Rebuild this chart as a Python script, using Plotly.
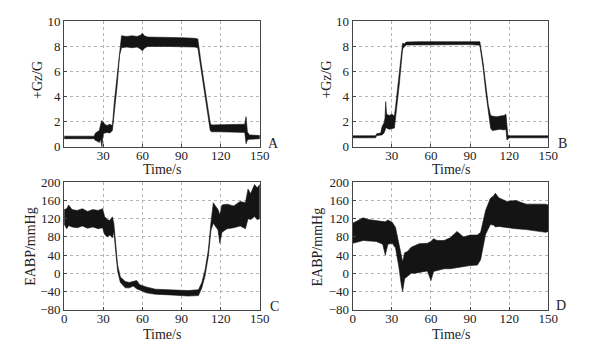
import plotly.graph_objects as go

# ---------------- data (envelopes) ----------------
# Panel A: +Gz/G vs time
tA = [0, 23, 24, 25.5, 27, 28, 29, 29.5, 30, 31, 33, 35, 37, 38.5, 40.75, 42.5, 44,
      48, 52, 56, 58.5, 60, 61.5, 64, 70, 80, 90, 100, 102.5, 105, 107, 110, 112,
      113, 120, 130, 138.5, 139.5, 140.5, 142, 146, 150]
upA = [0.85, 0.85, 1.1, 1.2, 1.3, 1.8, 2.1, 1.9, 2.0, 1.8, 1.7, 1.8, 1.7, 3.6, 5.8, 7.9, 8.85,
       8.8, 8.85, 8.8, 8.9, 9.05, 8.85, 8.75, 8.75, 8.72, 8.7, 8.65, 8.6, 6.7, 5.4, 3.3, 1.9,
       1.75, 1.75, 1.75, 1.8, 2.4, 1.2, 0.95, 0.9, 0.9]
loA = [0.65, 0.65, 0.5, 0.45, 0.35, 0.6, 0.0, 0.6, 1.0, 1.1, 1.15, 1.1, 1.3, 2.8, 5.0, 7.3, 7.9,
       7.95, 7.9, 7.95, 7.8, 7.65, 7.85, 8.0, 8.0, 8.0, 8.0, 7.95, 7.9, 6.0, 4.9, 2.7, 1.3,
       1.2, 1.2, 1.2, 1.15, 0.25, 0.55, 0.6, 0.65, 0.65]

# Panel B: +Gz/G vs time
tB = [0, 17.5, 18.5, 21.5, 22.5, 24, 24.8, 25.3, 26, 28, 30, 32, 33, 35.75, 38.25, 39.5,
      41, 50, 60, 70, 80, 90, 97.5, 100, 102, 104, 105.75, 107, 110, 113, 116, 117.5,
      118.3, 119, 120, 130, 140, 150]
upB = [0.88, 0.88, 1.05, 1.1, 1.6, 1.9, 2.3, 3.6, 2.6, 2.5, 2.6, 2.45, 3.3, 5.7, 8.25, 8.2,
       8.35, 8.38, 8.38, 8.38, 8.38, 8.38, 8.38, 6.7, 4.8, 3.3, 2.5, 2.45, 2.4, 2.45, 2.5, 2.6,
       1.7, 0.9, 0.88, 0.88, 0.88, 0.88]
loB = [0.72, 0.72, 0.9, 0.95, 0.95, 1.1, 1.3, 1.5, 1.5, 1.4, 1.45, 1.5, 2.2, 5.0, 7.8, 7.95,
       8.12, 8.15, 8.15, 8.15, 8.15, 8.15, 8.1, 6.3, 4.4, 2.7, 1.5, 1.3, 1.35, 1.4, 1.35, 1.4,
       0.55, 0.6, 0.72, 0.72, 0.72, 0.72]

# Panel C: EABP/mmHg vs time
tC = [0, 2, 3.5, 6, 10, 14, 18, 22, 26, 29.5, 31, 33, 35, 37, 38.1, 39.4, 41, 43.1,
      46.9, 50, 53, 55.6, 58, 63, 70, 77, 85, 95, 103, 105.6, 108.1, 110.6, 112.6,
      114.4, 116, 118, 119.4, 121, 125, 130, 135, 139, 141, 143, 146, 148, 150]
upC = [140, 142, 150, 140, 138, 142, 136, 140, 138, 142, 125, 118, 116, 124, 110, 60, 18, -8,
       -18, -20, -18, -16, -25, -30, -35, -36, -37, -38, -36, -20, 8, 52, 112,
       155, 148, 140, 128, 150, 152, 148, 158, 155, 185, 175, 195, 188, 195]
loC = [108, 98, 105, 102, 100, 104, 99, 102, 98, 100, 86, 80, 84, 78, 92, 45, 5, -20,
       -32, -32, -28, -34, -38, -43, -46, -47, -48, -50, -49, -32, -5, 38, 95,
       110, 102, 95, 66, 90, 98, 100, 104, 98, 120, 118, 125, 118, 120]

# Panel D: EABP/mmHg vs time
tD = [0, 3, 8, 12, 18, 23, 25, 27, 30.3, 32.8, 35.3, 37.3, 38.3, 39.8, 42, 44.8, 48, 51,
      57.3, 60, 62, 64.8, 70, 74.8, 80, 85, 90, 95.6, 98.1, 101.9, 105.6, 108, 109.4,
      112, 118.1, 125, 133.1, 140, 148, 150]
upD = [110, 115, 122, 118, 116, 114, 113, 117, 112, 101, 66, 31, 25, 45, 48, 57, 62, 65,
       66, 70, 76, 72, 72, 78, 92, 80, 84, 84, 90, 138, 165, 170, 176,
       166, 158, 160, 152, 152, 152, 150]
loD = [66, 68, 72, 72, 70, 64, 40, 64, 66, 56, 16, -26, -40, -12, -6, 0, 0, 2,
       5, -16, 4, 6, 10, 10, 12, 15, 17, 18, 30, 86, 107, 106, 102,
       103, 100, 98, 96, 94, 90, 92]

xticks_top = [30, 60, 90, 120, 150]
xticks_bot = [0, 30, 60, 90, 120, 150]
yticks_g = [0, 2, 4, 6, 8, 10]
yticks_p = [-80, -40, 0, 40, 80, 120, 160, 200]
yticks_p_text = ["\u221280", "\u221240", "0", "40", "80", "120", "160", "200"]
panel_letters = ["A", "B", "C", "D"]

# ---------------- figure ----------------
W, H = 595, 356
FONT = "Liberation Serif, Times New Roman, serif"


def px_x(a, b):
    return [a / W, b / W]


def px_y(top, bottom):
    return [1 - bottom / H, 1 - top / H]


fig = go.Figure()

panels = [
    (tA, upA, loA, "x", "y"),
    (tB, upB, loB, "x2", "y2"),
    (tC, upC, loC, "x3", "y3"),
    (tD, upD, loD, "x4", "y4"),
]
for t, up, lo, xa, ya in panels:
    fig.add_trace(go.Scatter(
        x=list(t) + list(t)[::-1],
        y=list(up) + list(lo)[::-1],
        fill="toself", fillcolor="#141414",
        line=dict(color="#141414", width=0.6),
        mode="lines", hoverinfo="skip", showlegend=False,
        xaxis=xa, yaxis=ya,
    ))

common_axis = dict(
    showline=True, mirror=True, linecolor="#444444", linewidth=1,
    ticks="inside", ticklen=3, tickcolor="#444444",
    showgrid=True, gridcolor="#b5b5b5", griddash="dot", gridwidth=1,
    zeroline=False, tickfont=dict(family=FONT, size=13, color="#222222"),
)
x_axis_extra = dict(ticklabelstandoff=-3)

xA = px_x(62.5, 262.5)
xB = px_x(357.5, 557.5)
yTop = px_y(15, 146)
yBot = px_y(183, 316)

fig.update_layout(
    width=W, height=H,
    margin=dict(l=0, r=0, t=0, b=0),
    paper_bgcolor="white", plot_bgcolor="white",
    font=dict(family=FONT, size=13, color="#222222"),
    xaxis=dict(domain=xA, range=[0, 150], tickvals=xticks_top, anchor="y",
               **x_axis_extra, **common_axis),
    yaxis=dict(domain=yTop, range=[0, 10], tickvals=yticks_g, anchor="x", **common_axis),
    xaxis2=dict(domain=xB, range=[0, 150], tickvals=xticks_top, anchor="y2",
                **x_axis_extra, **common_axis),
    yaxis2=dict(domain=yTop, range=[0, 10], tickvals=yticks_g, anchor="x2", **common_axis),
    xaxis3=dict(domain=xA, range=[0, 150], tickvals=xticks_bot, anchor="y3",
                **x_axis_extra, **common_axis),
    yaxis3=dict(domain=yBot, range=[-80, 200], tickvals=yticks_p, ticktext=yticks_p_text,
                anchor="x3", **common_axis),
    xaxis4=dict(domain=xB, range=[0, 150], tickvals=xticks_bot, anchor="y4",
                **x_axis_extra, **common_axis),
    yaxis4=dict(domain=yBot, range=[-80, 200], tickvals=yticks_p, ticktext=yticks_p_text,
                anchor="x4", **common_axis),
)

ann = []
# x titles
for cx, cy in [(162.5, 170), (457.5, 170), (162.5, 342), (457.5, 342)]:
    ann.append(dict(text="Time/s", x=cx / W, y=1 - cy / H, xref="paper", yref="paper",
                    showarrow=False, xanchor="center", yanchor="middle",
                    font=dict(family=FONT, size=14, color="#222222")))
# y titles
for txt, cx, cy in [("+Gz/G", 36, 76), ("+Gz/G", 331, 76),
                    ("EABP/mmHg", 28, 250), ("EABP/mmHg", 322, 250)]:
    ann.append(dict(text=txt, x=cx / W, y=1 - cy / H, xref="paper", yref="paper",
                    showarrow=False, xanchor="center", yanchor="middle", textangle=-90,
                    font=dict(family=FONT, size=14, color="#222222")))
# panel letters
for letter, cx, cy in zip(panel_letters, [277, 572, 278, 570], [142, 142, 313, 312]):
    ann.append(dict(text=letter, x=cx / W, y=1 - cy / H, xref="paper", yref="paper",
                    showarrow=False, xanchor="center", yanchor="middle",
                    font=dict(family=FONT, size=14, color="#222222")))
fig.update_layout(annotations=ann)

fig.write_html("out.html", config={"displayModeBar": False},
               post_script="document.body.style.margin='0';document.body.style.padding='0';")
